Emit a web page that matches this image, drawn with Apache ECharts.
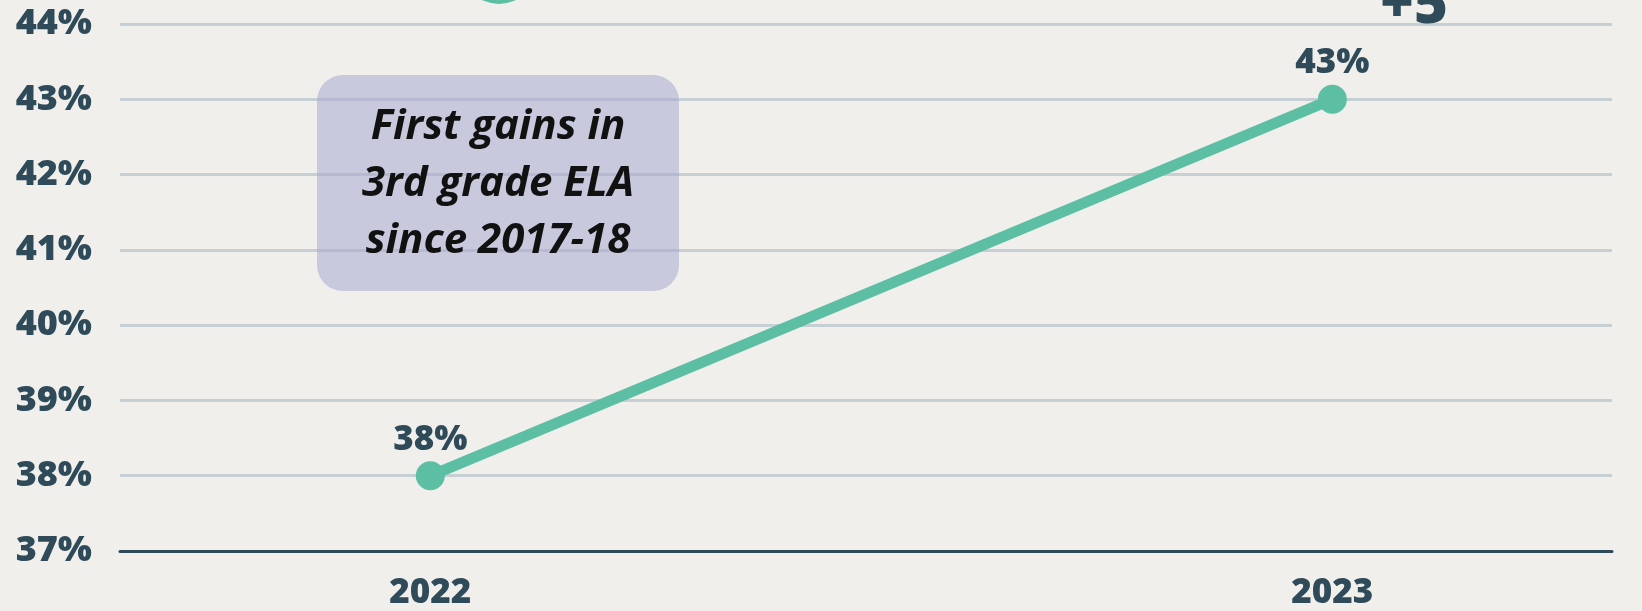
<!DOCTYPE html>
<html><head><meta charset="utf-8">
<script src="https://cdn.jsdelivr.net/npm/echarts@6/dist/echarts.min.js"></script>
<style>html,body{margin:0;padding:0;background:#f0efec;}#c{width:1642px;height:611px;}</style>
</head><body><div id="c"></div>
<script>
const years = [2022, 2023];
const values = [38, 43];
const yTicks = [37, 38, 39, 40, 41, 42, 43, 44];
const annotation = ['First gains in', '3rd grade ELA', 'since 2017-18'];
const changeLabel = '+5';

const dark = '#2f4b59';
const teal = '#5cbfa3';
const numFont = '"Open Sans", sans-serif';

const chart = echarts.init(document.getElementById('c'));
chart.setOption({
  backgroundColor: '#f0efec',
  animation: false,
  grid: { left: 120, right: 30, top: 24, bottom: 58 },
  xAxis: {
    type: 'value', min: 2021.656, max: 2023.31,
    axisLine: { show: true, lineStyle: { color: dark, width: 3 } },
    axisTick: { show: false },
    splitLine: { show: false },
    axisLabel: { customValues: years, color: dark, fontFamily: numFont, fontWeight: 800, fontSize: 35, margin: 25,
      formatter: v => String(Math.round(v)) }
  },
  yAxis: {
    type: 'value', min: yTicks[0], max: yTicks[yTicks.length - 1], interval: 1,
    axisLine: { show: false }, axisTick: { show: false },
    splitLine: { lineStyle: { color: '#c6cfd3', width: 3 } },
    axisLabel: { color: dark, fontFamily: numFont, fontWeight: 800, fontSize: 36, margin: 28,
      formatter: v => v + '%' }
  },
  series: [{
    type: 'line',
    data: years.map((y, i) => [y, values[i]]),
    lineStyle: { color: teal, width: 11 },
    itemStyle: { color: teal },
    symbol: 'circle', symbolSize: 29,
    label: { show: true, position: 'top', distance: 4, color: dark, fontFamily: numFont, fontWeight: 800, fontSize: 35,
      formatter: p => p.value[1] + '%' },
    z: 5
  }],
  graphic: [
    { type: 'rect', shape: { x: 317, y: 75, width: 362, height: 216, r: 26 },
      style: { fill: 'rgba(168,170,210,0.55)' }, z: 10 },
    { type: 'text', x: 498, y: 184, z: 11,
      style: { text: annotation.join('\n'), align: 'center', verticalAlign: 'middle',
        font: 'italic bold 42px "Open Sans", sans-serif', lineHeight: 57, fill: '#111' } },
    { type: 'circle', shape: { cx: 499, cy: -34, r: 38 },
      style: { fill: teal }, z: 10 },
    { type: 'text', x: 1414, y: 6, z: 11,
      style: { text: changeLabel, align: 'center', verticalAlign: 'middle',
        font: '800 58px "Open Sans", sans-serif', fill: dark } }
  ]
});
</script></body></html>
